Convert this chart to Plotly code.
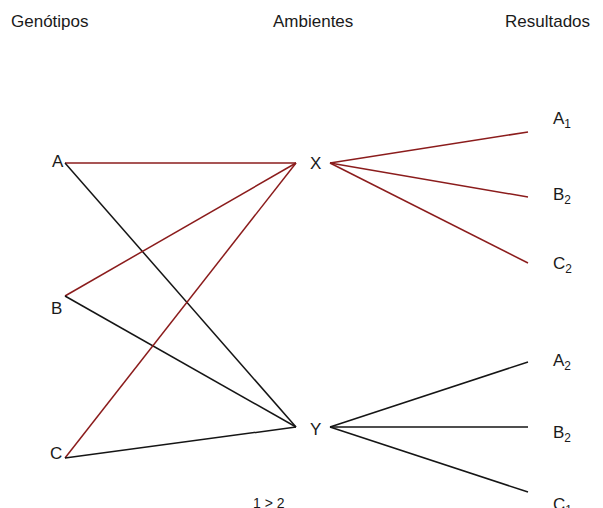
import plotly.graph_objects as go

# Node positions (pixel-like coordinates of the diagram)
genotypes = ["A", "B", "C"]
genotype_x = [65, 65, 65]
genotype_y = [163, 296, 458]
genotype_label_x = [50, 49, 48]
genotype_label_y = [161, 308, 453]

environments = ["X", "Y"]
env_in_x = [296, 296]      # where genotype lines meet the environment
env_out_x = [330, 330]     # where result lines leave the environment
env_y = [163, 427]
env_label_x = [308, 308]
env_label_y = [163, 429]

results_x = ["A<sub>1</sub>", "B<sub>2</sub>", "C<sub>2</sub>"]
results_x_y = [132, 197, 263]
results_x_label_y = [117, 193, 262]
results_y = ["A<sub>2</sub>", "B<sub>2</sub>", "C<sub>1</sub>"]
results_y_y = [362, 427, 492]
results_y_label_y = [359, 431, 503]
result_end_x = 528
result_label_x = 551

headers = ["Genótipos", "Ambientes", "Resultados"]
header_x = [9, 271, 503]
header_y = 21

note_text = "1 > 2"
note_x, note_y = 251, 503

RED = "#8b1c1c"
BLACK = "#151515"
FONT = "Liberation Sans, Arial, sans-serif"

# the page body adds an 8px offset; compensate through the axis ranges
OFF = 8
W, H = 603, 508

fig = go.Figure()

def seg(x0, y0, x1, y1, color):
    fig.add_trace(go.Scatter(x=[x0, x1], y=[y0, y1], mode="lines",
                             line=dict(color=color, width=1.5),
                             hoverinfo="skip", showlegend=False))

for gx, gy in zip(genotype_x, genotype_y):
    seg(gx, gy, env_in_x[0], env_y[0], RED)
    seg(gx, gy, env_in_x[1], env_y[1], BLACK)
for ry in results_x_y:
    seg(env_out_x[0], env_y[0], result_end_x, ry, RED)
for ry in results_y_y:
    seg(env_out_x[1], env_y[1], result_end_x, ry, BLACK)

ann = []
def label(x, y, text, size=17, yshift=0):
    ann.append(dict(x=x, y=y, text=text, showarrow=False, xanchor="left",
                    yanchor="middle", xref="x", yref="y", yshift=yshift,
                    font=dict(family=FONT, size=size, color="#1a1a1a")))

for t, hx in zip(headers, header_x):
    label(hx, header_y, t, size=17)
for t, lx, ly in zip(genotypes, genotype_label_x, genotype_label_y):
    label(lx, ly, t)
for t, lx, ly in zip(environments, env_label_x, env_label_y):
    label(lx, ly, t)
for t, ly in zip(results_x, results_x_label_y):
    label(result_label_x, ly, t, yshift=-3)
for t, ly in zip(results_y, results_y_label_y):
    label(result_label_x, ly, t, yshift=-3)
label(note_x, note_y, note_text, size=14)

fig.update_layout(
    width=W - OFF, height=H - OFF,
    margin=dict(l=0, r=0, t=0, b=0),
    paper_bgcolor="white", plot_bgcolor="white",
    xaxis=dict(range=[OFF, W], visible=False, fixedrange=True),
    yaxis=dict(range=[H, OFF], visible=False, fixedrange=True),
    annotations=ann,
)

fig.write_html("out.html")
